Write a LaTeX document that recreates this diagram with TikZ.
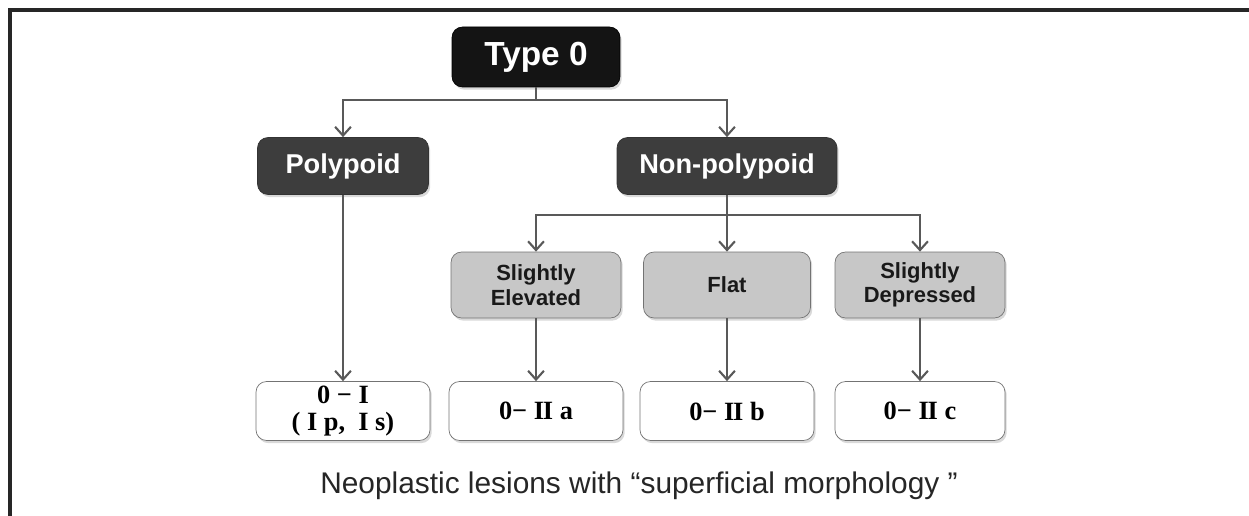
\documentclass[tikz,border=0pt]{standalone}
\usepackage{fontspec}
\setmainfont{Liberation Sans}
\newfontfamily\romfont{Liberation Serif}
\usetikzlibrary{arrows.meta,shadows}

\tikzset{
  topbox/.style={draw=black, fill=black!92, text=white, rounded corners=6pt,
    font=\bfseries\fontsize{19}{21}\selectfont, minimum width=3.36cm, minimum height=1.2cm,
    drop shadow={shadow xshift=1pt, shadow yshift=-1.5pt, opacity=0.3}},
  darkbox/.style={draw=black!80, fill=black!76, text=white, rounded corners=6pt,
    font=\bfseries\fontsize{15.5}{17}\selectfont, minimum height=1.14cm,
    drop shadow={shadow xshift=1pt, shadow yshift=-1.5pt, opacity=0.3}},
  greybox/.style={draw=black!55, fill=black!22, text=black!90, rounded corners=6pt, align=center,
    font=\bfseries\fontsize{12.5}{14}\selectfont, minimum width=3.4cm, minimum height=1.32cm,
    drop shadow={shadow xshift=1pt, shadow yshift=-1.5pt, opacity=0.3}},
  typebox/.style={draw=black!55, fill=white, rounded corners=6pt, align=center,
    font=\romfont\bfseries\fontsize{15}{15.5}\selectfont, minimum width=3.48cm, minimum height=1.18cm,
    inner ysep=1pt,
    drop shadow={shadow xshift=1pt, shadow yshift=-1.5pt, opacity=0.3}},
  arr/.style={draw=black!65, line width=1.2pt, -{Straight Barb[length=5pt,width=9pt]}},
  link/.style={draw=black!65, line width=1.2pt}
}

\newcommand{\romII}{I\kern-0.6pt I}

\begin{document}
\begin{tikzpicture}[x=0.02cm, y=-0.02cm]
  \useasboundingbox (0,0) rectangle (1249,516);
  \draw[line width=1.8pt, black!85] (10,530) |- (1260,10);

  % Cajas
  \node[topbox] (T0) at (536,57) {Type 0};
  \node[darkbox, minimum width=3.42cm] (P) at (343,166) {Polypoid};
  \node[darkbox, minimum width=4.4cm] (NP) at (727,166) {Non-polypoid};

  \node[greybox] (SE) at (536,285) {Slightly\\Elevated};
  \node[greybox, minimum width=3.34cm] (FL) at (727,285) {Flat};
  \node[greybox] (SD) at (920,285) {Slightly\\Depressed};

  \node[typebox] (I) at (343,411) {0 − I\\( I p,\ \ I s)};
  \node[typebox] (IIa) at (536,411) {0− \romII\ a};
  \node[typebox] (IIb) at (727,411) {0− \romII\ b};
  \node[typebox, minimum width=3.4cm] (IIc) at (920,411) {0− \romII\ c};

  \node[font=\fontsize{17}{19}\selectfont, text=black!85] (cap) at (639,486)
    {Neoplastic lesions with “superficial morphology ”};

  % Conectores
  \coordinate (s1) at (536,100);
  \coordinate (s2) at (727,215);
  \draw[link] (T0) -- (s1);
  \draw[arr] (s1) -| (P);
  \draw[arr] (s1) -| (NP);
  \draw[link] (NP) -- (s2);
  \draw[arr] (s2) -| (SE);
  \draw[arr] (s2) -- (FL);
  \draw[arr] (s2) -| (SD);

  \draw[arr] (P) -- (I);
  \draw[arr] (SE) -- (IIa);
  \draw[arr] (FL) -- (IIb);
  \draw[arr] (SD) -- (IIc);
\end{tikzpicture}
\end{document}
